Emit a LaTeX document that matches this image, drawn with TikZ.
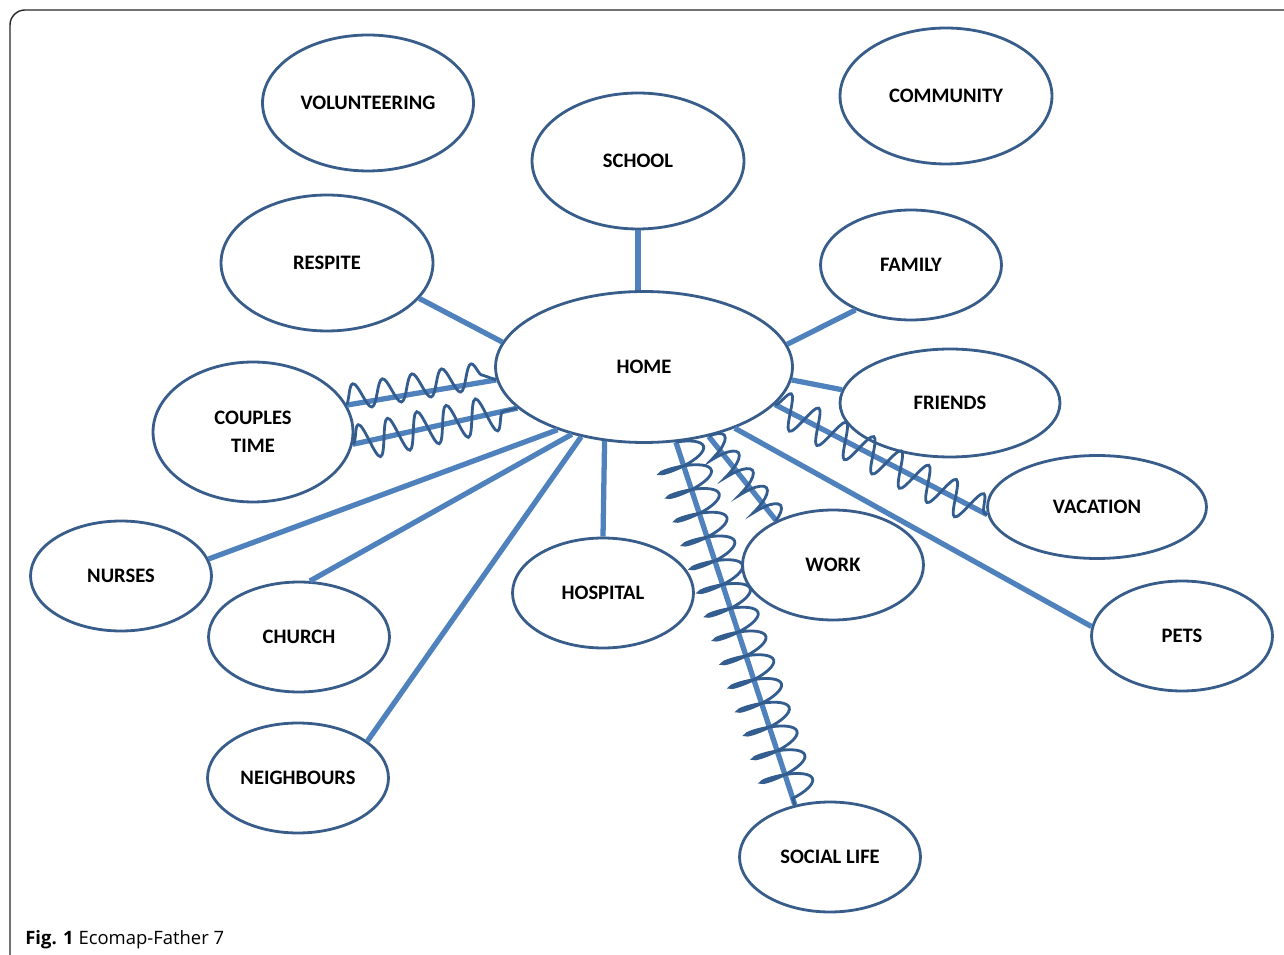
\documentclass[tikz,border=0pt]{standalone}
\usepackage{fontspec}
\setmainfont{Carlito}
\newfontfamily\capfont{Open Sans}
\usetikzlibrary{shapes.geometric,decorations.pathmorphing}
\definecolor{ringblue}{HTML}{385D8A}
\definecolor{tieblue}{HTML}{4F81BD}
\definecolor{waveblue}{HTML}{345D8F}

\begin{document}
\begin{tikzpicture}[x=0.02cm,y=-0.02cm,
  bubble/.style={ellipse,draw=ringblue,line width=1.6pt,inner sep=0pt,align=center,
    font=\fontsize{11.7}{16}\selectfont\bfseries,minimum width=3.62cm,minimum height=2.2cm},
  tie/.style={draw=tieblue,line width=3pt},
  wavy/.style={draw=waveblue,line width=1.6pt,decorate,
    decoration={snake,segment length=0.6cm,amplitude=0.3cm}},
  springy/.style={draw=waveblue,line width=1.6pt,decorate,
    decoration={coil,aspect=0.25,segment length=0.5cm,amplitude=0.5cm}}]
\useasboundingbox (0,0) rectangle (1284,955);
\draw[black!85,line width=0.8pt,rounded corners=0.3cm] (10,955) -- (10,10) -- (1284,10);

\node[bubble,minimum width=5.94cm,minimum height=3.02cm] (home) at (644,367) {HOME};
\node[bubble,minimum width=4.22cm,minimum height=2.72cm] (volunteering) at (368,103) {VOLUNTEERING};
\node[bubble,minimum width=4.24cm,minimum height=2.72cm] (school) at (638,161) {SCHOOL};
\node[bubble,minimum width=4.24cm,minimum height=2.72cm] (community) at (946,96) {COMMUNITY};
\node[bubble,minimum width=4.24cm,minimum height=2.72cm] (respite) at (327,263) {RESPITE};
\node[bubble] (family) at (911,265) {FAMILY};
\node[bubble,minimum width=4.4cm,minimum height=2.16cm] (friends) at (950,403) {FRIENDS};
\node[bubble,minimum width=4cm,minimum height=2.8cm] (couples) at (253,432) {COUPLES\\TIME};
\node[bubble,minimum width=4.38cm,minimum height=2.06cm] (vacation) at (1097,507) {VACATION};
\node[bubble] (nurses) at (121,576) {NURSES};
\node[bubble] (hospital) at (603,593) {HOSPITAL};
\node[bubble] (work) at (833,565) {WORK};
\node[bubble] (church) at (299,637) {CHURCH};
\node[bubble] (pets) at (1182,636) {PETS};
\node[bubble] (neighbours) at (298,778) {NEIGHBOURS};
\node[bubble] (sociallife) at (830,857) {SOCIAL LIFE};

% ties to home
\draw[tie] (school.south) -- (school.south |- home.north);
\draw[tie] (respite.-21) -- (home.170);
\draw[tie] (family.219) -- (home.9);
\draw[tie] (friends.173) -- (home.-5);
\draw[tie] (couples.16) -- (home.185);
\draw[tie] (couples.-7) -- (home.198);
\draw[tie] (nurses.11) -- (home.216);
\draw[tie] (church.79) -- (home.223);
\draw[tie] (neighbours.28) -- (home.228);
\draw[tie] (hospital.north) -- (home.242);
\draw[tie] (sociallife.124) -- (home.-67);
\draw[tie] (work.142) -- (home.-47);
\draw[tie] (vacation.184) -- (home.-16);
\draw[tie] (pets.174) -- (home.-34);

% stressful ties
\draw[wavy,decoration={amplitude=0.26cm,raise=0.14cm}] (couples.16) -- (home.185);
\draw[wavy,decoration={amplitude=0.36cm}] (couples.-7) -- (home.198);
\draw[wavy,decoration={amplitude=0.34cm,segment length=0.62cm}] (home.-16) -- (vacation.184);
\draw[springy] (home.-67) -- (sociallife.124);
\draw[springy,decoration={amplitude=0.26cm,segment length=0.45cm}] (home.-47) -- (work.142);

\node[anchor=west,inner sep=0pt,font=\capfont\fontsize{10.5}{12}\selectfont] (caption) at (25,940) {\textbf{Fig. 1} Ecomap-Father 7};
\end{tikzpicture}
\end{document}
